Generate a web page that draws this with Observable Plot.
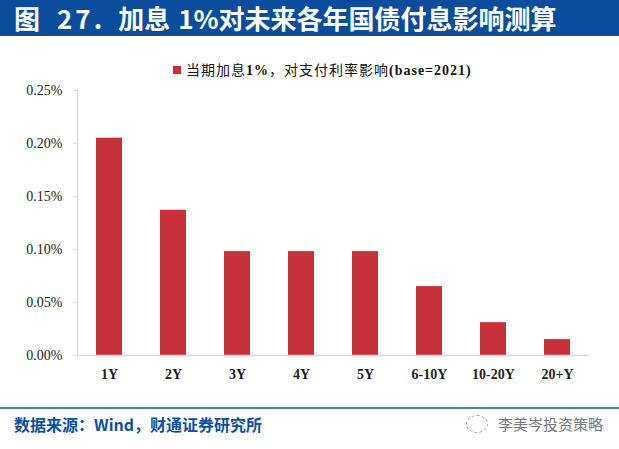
<!DOCTYPE html>
<html>
<head>
<meta charset="utf-8">
<script src="https://cdn.jsdelivr.net/npm/d3@7"></script>
<script src="https://cdn.jsdelivr.net/npm/@observablehq/plot@0.6"></script>
<style>
  html, body { margin: 0; padding: 0; background: #fff; width: 619px; height: 449px; overflow: hidden; }
  #title { height: 36px; background: #0b4d9c; color: #fff; font-family: "Noto Sans CJK SC", sans-serif; font-weight: bold; font-size: 26px; line-height: 36px; padding-left: 14px; white-space: nowrap; letter-spacing: 0px; }
  #title .a { margin-right: 17px; }
  #title .b { margin-right: 13px; letter-spacing: 3px; }
  #title .c { margin-right: 8px; }
  #legend { height: 44px; position: relative; font-family: "Liberation Serif", "Noto Sans CJK SC", serif; font-size: 14px; color: #111; }
  #legend .item { position: absolute; left: 173px; top: 26px; white-space: nowrap; line-height: 18px; letter-spacing: 1px; }
  #legend .sw { display: inline-block; width: 8px; height: 8px; background: #c8313a; margin-right: 5px; vertical-align: 1px; }
  #chart { height: 326px; }
  #footline { height: 2px; background: #4a7fc0; margin-top: 1px; }
  #footer { position: relative; height: 40px; }
  #src { position: absolute; left: 14px; top: 3px; font-family: "Noto Sans CJK SC", sans-serif; font-weight: bold; font-size: 16px; color: #0d4f9f; white-space: nowrap; }
  #wm { position: absolute; left: 498px; top: 4px; font-family: "Noto Sans CJK SC", sans-serif; font-size: 15px; color: #777; white-space: nowrap; }
  #wmicon { position: absolute; left: 466px; top: 6px; width: 20px; height: 16px; border: 1px dashed #999; border-radius: 50%; }
</style>
</head>
<body>
<div id="title"><span class="a">图</span><span class="b">27.</span><span class="c">加息</span>1%对未来各年国债付息影响测算</div>
<div id="legend"><div class="item"><span class="sw"></span><span>当期加息<b>1%</b>，对支付利率影响<b>(base=2021)</b></span></div></div>
<div id="chart"></div>
<div id="footline"></div>
<div id="footer"><div id="src">数据来源：Wind，财通证券研究所</div><div id="wmicon"></div><div id="wm">李美岑投资策略</div></div>
<script>
const categories = ["1Y", "2Y", "3Y", "4Y", "5Y", "6-10Y", "10-20Y", "20+Y"];
const values = [0.00205, 0.00137, 0.00098, 0.00098, 0.00098, 0.00065, 0.00031, 0.00015];
const yTicks = [0, 0.0005, 0.001, 0.0015, 0.002, 0.0025];
const seriesName = "当期加息1%，对支付利率影响(base=2021)";

const data = categories.map((c, i) => ({ cat: c, value: values[i], series: seriesName }));

// left axis line drawn from the y scale
const yAxisLine = (index, scales, values, dimensions) => {
  const x = dimensions.marginLeft + 0.5;
  return d3.create("svg:line")
    .attr("x1", x).attr("x2", x)
    .attr("y1", scales.y(0)).attr("y2", scales.y(yTicks[yTicks.length - 1]))
    .attr("stroke", "#d9d9d9").attr("stroke-width", 1)
    .node();
};

const chart = Plot.plot({
  width: 619,
  height: 326,
  marginTop: 10,
  marginBottom: 51,
  marginLeft: 77,
  marginRight: 30,
  style: { fontFamily: "Liberation Serif, serif", fontSize: "14px", color: "#222", background: "#fff" },
  x: { domain: categories, paddingInner: 0.6, paddingOuter: 0.3, label: null },
  y: { domain: [0, 0.0025], label: null },
  marks: [
    Plot.axisY({ ticks: yTicks, tickFormat: d3.format(".2%"), tickSize: 4, tickPadding: 11, stroke: "#d9d9d9", fontSize: 14 }),
    Plot.axisX({ tickSize: 0, tickPadding: 14, fontWeight: "bold", fontSize: 14 }),
    Plot.barY(data, { x: "cat", y: "value", fill: "#c8313a" }),
    Plot.ruleY([0], { stroke: "#d9d9d9", strokeWidth: 1.5 }),
    yAxisLine
  ]
});
document.getElementById("chart").appendChild(chart);
</script>
</body>
</html>
